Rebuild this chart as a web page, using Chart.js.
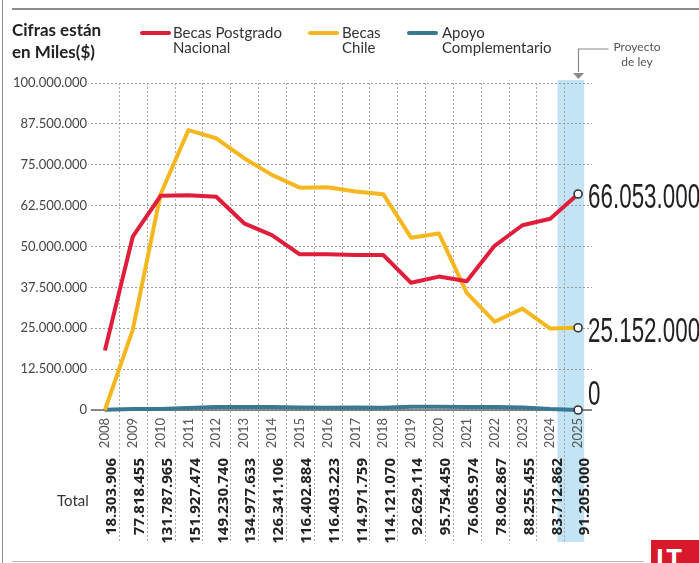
<!DOCTYPE html>
<html>
<head>
<meta charset="utf-8">
<script src="https://cdn.jsdelivr.net/npm/chart.js@4.4.1/dist/chart.umd.min.js"></script>
<style>
html,body{margin:0;padding:0;background:#fff;}
#wrap{position:relative;width:699px;height:563px;overflow:hidden;background:#fff;font-family:Lato,"Open Sans",sans-serif;}
#c{position:absolute;left:0;top:0;}
.abs{position:absolute;white-space:nowrap;}
.title{font-weight:700;font-size:17px;line-height:22px;color:#222;}
.leg{font-size:15px;line-height:15px;color:#333;}
.sw{position:absolute;height:4px;width:31px;border-radius:2px;}
.note{font-size:12px;line-height:15px;color:#555;text-align:center;width:62px;}
.line{position:absolute;background:#8c8c8c;}
</style>
</head>
<body>
<div id="wrap">
  <canvas id="c" width="699" height="563"></canvas>
  <div class="line" style="left:12px;top:8px;width:687px;height:1.5px;"></div>
  <div class="line" style="left:2px;top:0;width:1px;height:563px;"></div>
  <div class="line" style="left:12px;top:561px;width:632px;height:1px;background:#bbb;"></div>

  <div class="abs title" style="left:12px;top:19px;">Cifras están<br>en Miles($)</div>

  <div class="sw" style="left:140px;top:31px;background:#e01e3c;"></div>
  <div class="abs leg" style="left:173px;top:25px;">Becas Postgrado<br>Nacional</div>
  <div class="sw" style="left:308px;top:31px;background:#f4b71f;"></div>
  <div class="abs leg" style="left:342px;top:25px;">Becas<br>Chile</div>
  <div class="sw" style="left:407px;top:31px;background:#3b7891;"></div>
  <div class="abs leg" style="left:442px;top:25px;">Apoyo<br>Complementario</div>

  <div class="abs note" style="left:606px;top:39px;">Proyecto<br>de ley</div>
  <div class="abs" style="left:57px;top:491px;font-size:15px;color:#333;">Total</div>

  <div class="abs" style="left:651px;top:540px;width:48px;height:23px;background:#d7192b;overflow:hidden;">
    <div style="position:absolute;left:5px;top:5px;font-weight:900;font-size:26px;line-height:26px;color:#fff;letter-spacing:-1px;">LT</div>
  </div>
</div>
<script>
const years = ['2008','2009','2010','2011','2012','2013','2014','2015','2016','2017','2018','2019','2020','2021','2022','2023','2024','2025'];
const becasPostgradoNacional = [18200000, 53000000, 65500000, 65700000, 65200000, 57100000, 53500000, 47600000, 47600000, 47400000, 47400000, 38900000, 40800000, 39400000, 50200000, 56500000, 58500000, 66053000];
const becasChile = [0, 24500000, 66000000, 85600000, 83100000, 77000000, 71900000, 68000000, 68100000, 66800000, 66000000, 52700000, 54000000, 35800000, 27000000, 31000000, 24900000, 25152000];
const apoyoComplementario = [100000, 300000, 300000, 600000, 900000, 900000, 900000, 800000, 700000, 800000, 700000, 1000000, 1000000, 900000, 900000, 800000, 300000, 0];
const totals = [18303906, 77818455, 131787965, 151927474, 149230740, 134977633, 126341106, 116402884, 116403223, 114971759, 114121070, 92629114, 95754450, 76065974, 78062867, 88255455, 83712862, 91205000];
const yMin = 0, yMax = 100000000, yStep = 12500000;

function fmt(n){ return Math.round(n).toString().replace(/\B(?=(\d{3})+(?!\d))/g, '.'); }

const decor = {
  id: 'decor',
  beforeDraw(chart){
    const {ctx, chartArea:a, scales:{x, x2}} = chart;
    const n = years.length;
    const step = x.getPixelForTick(1) - x.getPixelForTick(0);
    const last = x.getPixelForTick(n-1);
    const bottom = x2.bottom - 8;
    ctx.save();
    ctx.fillStyle = '#c2e4f4';
    ctx.fillRect(last - 0.74*step, a.top - 3, 0.96*step, bottom - a.top + 3);
    ctx.strokeStyle = '#a9a9a9';
    ctx.lineWidth = 1;
    ctx.setLineDash([2,2]);
    for (let i = 0; i < n-1; i++){
      const px = Math.round((x.getPixelForTick(i) + x.getPixelForTick(i+1))/2) + 0.5;
      ctx.beginPath(); ctx.moveTo(px, a.top); ctx.lineTo(px, bottom); ctx.stroke();
    }
    ctx.restore();
  },
  beforeDatasetsDraw(chart){
    const {ctx, chartArea:a, scales:{y}} = chart;
    const py = y.getPixelForValue(0);
    ctx.save();
    ctx.strokeStyle = '#666';
    ctx.lineWidth = 1.5;
    ctx.beginPath(); ctx.moveTo(a.left, py); ctx.lineTo(a.right, py); ctx.stroke();
    ctx.restore();
  },
  afterDatasetsDraw(chart){
    const {ctx, chartArea:a, scales:{x, y}} = chart;
    ctx.save();
    ctx.font = '35px "Liberation Sans", Arial, sans-serif';
    const sx = 112 / ctx.measureText('00.000.000').width;
    ctx.restore();
    chart.data.datasets.forEach((ds, i) => {
      const meta = chart.getDatasetMeta(i);
      const pt = meta.data[meta.data.length-1];
      const v = ds.data[ds.data.length-1];
      ctx.save();
      ctx.font = '35px "Liberation Sans", Arial, sans-serif';
      ctx.fillStyle = '#222';
      ctx.textBaseline = 'alphabetic';
      ctx.textAlign = 'left';
      const baseY = (y.bottom - pt.y < 20) ? pt.y - 5 : pt.y + 14;
      ctx.translate(pt.x + 10, baseY);
      ctx.scale(sx, 1);
      ctx.fillText(fmt(v), 0, 0);
      ctx.restore();
    });
    // "Proyecto de ley" pointer
    const ax = Math.round(x.getPixelForTick(years.length-1)) + 0.5;
    ctx.save();
    ctx.strokeStyle = '#8a8a8a';
    ctx.fillStyle = '#8a8a8a';
    ctx.lineWidth = 1.2;
    ctx.beginPath();
    ctx.moveTo(ax + 30, a.top - 34);
    ctx.lineTo(ax, a.top - 34);
    ctx.lineTo(ax, a.top - 11);
    ctx.stroke();
    ctx.beginPath();
    ctx.moveTo(ax - 5.5, a.top - 10);
    ctx.lineTo(ax + 5.5, a.top - 10);
    ctx.lineTo(ax, a.top - 4);
    ctx.closePath();
    ctx.fill();
    ctx.restore();
  }
};

function lineDs(label, data, color){
  return {
    label, data,
    borderColor: color,
    backgroundColor: color,
    borderWidth: 4,
    borderJoinStyle: 'round',
    borderCapStyle: 'butt',
    tension: 0,
    clip: false,
    pointRadius: ctx => ctx.dataIndex === years.length-1 ? 4 : 0,
    pointHoverRadius: 0,
    pointBackgroundColor: '#fff',
    pointBorderColor: '#333',
    pointBorderWidth: 1.6
  };
}

function draw(){
  new Chart(document.getElementById('c'), {
    type: 'line',
    data: {
      labels: years,
      datasets: [
        lineDs('Becas Postgrado Nacional', becasPostgradoNacional, '#e01e3c'),
        lineDs('Becas Chile', becasChile, '#f4b71f'),
        lineDs('Apoyo Complementario', apoyoComplementario, '#3b7891')
      ]
    },
    options: {
      responsive: false,
      animation: false,
      devicePixelRatio: 1,
      layout: { padding: { top: 83, left: 0, right: 107, bottom: 13 } },
      plugins: { legend: { display: false }, tooltip: { enabled: false } },
      events: [],
      scales: {
        x: {
          type: 'category', labels: years, offset: true, position: 'bottom', weight: 0,
          grid: { display: false, drawTicks: false }, border: { display: false },
          ticks: { autoSkip: false, minRotation: 90, maxRotation: 90, padding: 8, color: '#555',
                   font: { family: 'Lato', size: 13 } },
          afterFit(s){ s.height = 40; }
        },
        x2: {
          type: 'category', labels: totals.map(fmt), offset: true, position: 'bottom', weight: 1,
          grid: { display: false, drawTicks: false }, border: { display: false },
          ticks: { autoSkip: false, minRotation: 90, maxRotation: 90, padding: 8, labelOffset: 7, color: '#222',
                   font: { family: 'Open Sans', size: 15, weight: 'bold' } },
          afterFit(s){ s.height = 100; }
        },
        y: {
          min: yMin, max: yMax,
          ticks: { stepSize: yStep, callback: v => fmt(v), padding: 4, color: '#444',
                   font: { family: 'Lato', size: 13 } },
          grid: { color: '#9c9c9c', lineWidth: 1, drawTicks: false },
          border: { display: false, dash: [2,2] },
          afterFit(s){ s.width = 91; }
        }
      }
    },
    plugins: [decor]
  });
}

const fontLoads = ['13px Lato','bold 17px Lato','bold 15px "Open Sans"','35px "Liberation Sans"'].map(f => document.fonts.load(f).catch(()=>null));
Promise.race([Promise.all(fontLoads), new Promise(r => setTimeout(r, 800))]).then(draw);
</script>
</body>
</html>
